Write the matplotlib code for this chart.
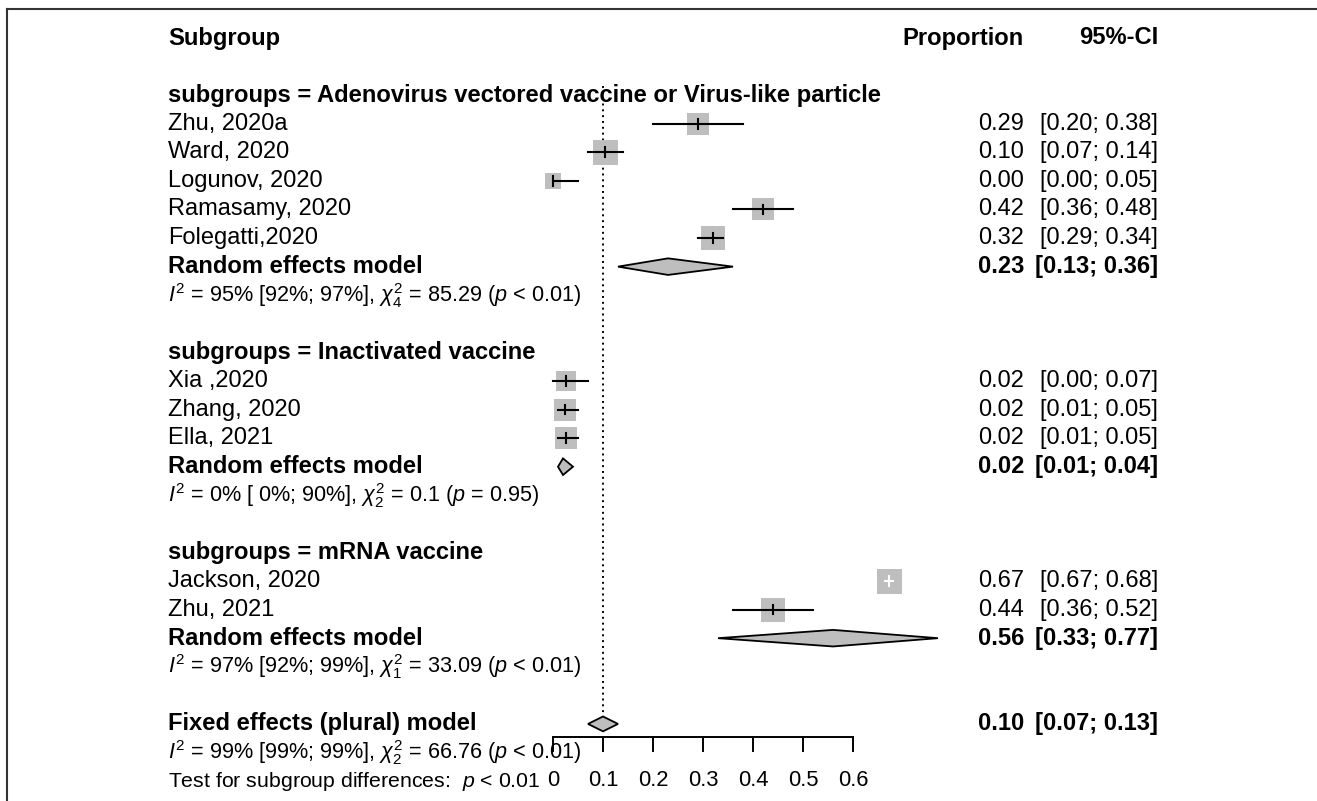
import numpy as np
import matplotlib
matplotlib.use("Agg")
import matplotlib.pyplot as plt
from matplotlib.lines import Line2D
from matplotlib.patches import Polygon

plt.rcParams['font.family'] = ['Liberation Sans', 'DejaVu Sans']
plt.rcParams['mathtext.fontset'] = 'custom'
plt.rcParams['mathtext.rm'] = 'Liberation Sans'
plt.rcParams['mathtext.it'] = 'Liberation Sans:italic'
plt.rcParams['mathtext.bf'] = 'Liberation Sans:bold'

# data
groups = ['Adenovirus vectored vaccine or Virus-like particle',
          'Inactivated vaccine', 'mRNA vaccine']
studies = ['Zhu, 2020a', 'Ward, 2020', 'Logunov, 2020', 'Ramasamy, 2020',
           'Folegatti,2020', 'Xia ,2020', 'Zhang, 2020', 'Ella, 2021',
           'Jackson, 2020', 'Zhu, 2021']
study_group = [0, 0, 0, 0, 0, 1, 1, 1, 2, 2]
prop = [0.29, 0.104, 0.00, 0.42, 0.32, 0.026, 0.024, 0.026, 0.672, 0.44]
lower = [0.20, 0.07, 0.00, 0.36, 0.29, 0.00, 0.01, 0.01, 0.67, 0.36]
upper = [0.38, 0.14, 0.05, 0.48, 0.34, 0.07, 0.05, 0.05, 0.68, 0.52]
prop_lbl = ['0.29', '0.10', '0.00', '0.42', '0.32', '0.02', '0.02', '0.02',
            '0.67', '0.44']
ci_lbl = ['[0.20; 0.38]', '[0.07; 0.14]', '[0.00; 0.05]', '[0.36; 0.48]',
          '[0.29; 0.34]', '[0.00; 0.07]', '[0.01; 0.05]', '[0.01; 0.05]',
          '[0.67; 0.68]', '[0.36; 0.52]']
weight = [23, 25, 16, 23, 24, 20, 22, 23, 25, 24]  # relative box size

re_est = [0.23, 0.02, 0.56]
re_lo = [0.13, 0.01, 0.33]
re_hi = [0.36, 0.04, 0.77]
re_ci = ['[0.13; 0.36]', '[0.01; 0.04]', '[0.33; 0.77]']
het = [r'$\mathit{I}^2$ = 95% [92%; 97%], $\chi^2_4$ = 85.29 ($\mathit{p}$ < 0.01)',
       r'$\mathit{I}^2$ = 0% [ 0%; 90%], $\chi^2_2$ = 0.1 ($\mathit{p}$ = 0.95)',
       r'$\mathit{I}^2$ = 97% [92%; 99%], $\chi^2_1$ = 33.09 ($\mathit{p}$ < 0.01)']

fe_est, fe_lo, fe_hi = 0.10, 0.07, 0.13
fe_het = r'$\mathit{I}^2$ = 99% [99%; 99%], $\chi^2_2$ = 66.76 ($\mathit{p}$ < 0.01)'
test_txt = r'Test for subgroup differences:  $\mathit{p}$ < 0.01'
ticks = [0, 0.1, 0.2, 0.3, 0.4, 0.5, 0.6]

W, H = 1317, 801
fig = plt.figure(figsize=(W / 100, H / 100), dpi=100)
ax = fig.add_axes([0, 0, 1, 1])
ax.axis('off')
px_unit = 500.0   # pixels per unit proportion
x0 = 553.0
line_px = 28.58
ax.set_xlim(-x0 / px_unit, (W - x0) / px_unit)
ax.set_ylim((H - 38) / line_px, -38 / line_px)

xl = (168 - x0) / px_unit
xp = (1024 - x0) / px_unit
xc = (1158 - x0) / px_unit
fs = 17.0
fsb = 17.1
fs2 = 15.6
gray = '#bebebe'

ax.text(xl, 0, 'Subgroup', fontsize=fsb, fontweight='bold', va='center')
ax.text(xp, 0, 'Proportion', fontsize=fsb, fontweight='bold', va='center', ha='right')
ax.text(xc, 0, '95%-CI', fontsize=fsb, fontweight='bold', va='center', ha='right')


def diamond(est, lo, hi, y, h=0.29):
    ax.add_patch(Polygon([[lo, y], [est, y - h], [hi, y], [est, y + h]],
                         closed=True, facecolor=gray, edgecolor='black', lw=1.3,
                         zorder=3))


line = 2
for g in range(len(groups)):
    ax.text(xl, line, 'subgroups = ' + groups[g], fontsize=fsb,
            fontweight='bold', va='center')
    line += 1
    for i in range(len(studies)):
        if study_group[i] != g:
            continue
        ax.text(xl, line, studies[i], fontsize=fs, va='center')
        ax.text(xp, line, prop_lbl[i], fontsize=fs, va='center', ha='right')
        ax.text(xc, line, ci_lbl[i], fontsize=fs, va='center', ha='right')
        ax.plot(prop[i], line, marker='s', markersize=weight[i] * 0.72,
                color=gray, markeredgewidth=0, zorder=2)
        # CI hidden inside the box is drawn in white
        c = 'white' if (upper[i] - lower[i]) * px_unit < 0.5 * weight[i] else 'black'
        if c == 'white':
            ax.plot([prop[i] - 0.008, prop[i] + 0.008], [line, line], color=c,
                    lw=1.5, zorder=3)
        else:
            ax.plot([lower[i], upper[i]], [line, line], color=c, lw=1.5, zorder=3)
        ax.plot([prop[i], prop[i]], [line - 0.17, line + 0.17], color=c,
                lw=1.5, zorder=3)
        line += 1
    ax.text(xl, line, 'Random effects model', fontsize=fsb, fontweight='bold',
            va='center')
    ax.text(xp, line, '%.2f' % re_est[g], fontsize=fsb, fontweight='bold',
            va='center', ha='right')
    ax.text(xc, line, re_ci[g], fontsize=fsb, fontweight='bold', va='center',
            ha='right')
    diamond(re_est[g], re_lo[g], re_hi[g], line)
    line += 1
    ax.text(xl, line, het[g], fontsize=fs2, va='center')
    line += 2

# overall
ax.text(xl, line, 'Fixed effects (plural) model', fontsize=fsb, fontweight='bold',
        va='center')
ax.text(xp, line, '%.2f' % fe_est, fontsize=fsb, fontweight='bold', va='center',
        ha='right')
ax.text(xc, line, '[%.2f; %.2f]' % (fe_lo, fe_hi), fontsize=fsb,
        fontweight='bold', va='center', ha='right')
diamond(fe_est, fe_lo, fe_hi, line, h=0.26)
ax.text(xl, line + 1, fe_het, fontsize=fs2, va='center')
ax.text(xl, line + 2, test_txt, fontsize=15.3, va='center')

# reference line at fixed estimate
ax.plot([fe_est, fe_est], [1.68, line - 0.25], color='black', lw=1.4,
        linestyle=(0, (1, 2)), zorder=1)

# x axis
ya = line + 0.46
ax.plot([ticks[0], ticks[-1]], [ya, ya], color='black', lw=1.4)
for t in ticks:
    ax.plot([t, t], [ya, ya + 0.5], color='black', lw=1.4)
    ax.text(t, line + 1.98, ('%.1f' % t) if t else '0', fontsize=15.8,
            ha='center', va='center')

# frame
fig.add_artist(Line2D([7 / W, 1], [1 - 9 / H, 1 - 9 / H], color='#333333', lw=1.5))
fig.add_artist(Line2D([7 / W, 7 / W], [0, 1 - 9 / H], color='#333333', lw=1.5))

fig.savefig('out.png', dpi=100)
